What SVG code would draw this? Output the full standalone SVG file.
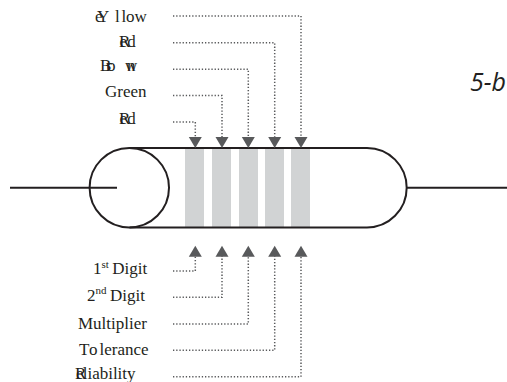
<svg xmlns="http://www.w3.org/2000/svg" width="507" height="382" viewBox="0 0 507 382">
  <style>
    .body { fill: none; stroke: #231f20; stroke-width: 2; }
    .band { fill: #d1d3d4; }
    .lead { fill: none; stroke: #58595b; stroke-width: 1.5; stroke-dasharray: 1.3 1.9; }
    .head { fill: #58595b; }
    .lbl { font-family: "Liberation Serif", serif; font-size: 17px; fill: #231f20; }
    .sup { font-size: 11px; }
    .tag { font-family: "Open Sans", sans-serif; font-style: italic; font-size: 25px; fill: #231f20; }
  </style>
  <defs>
    <path id="down" class="head" d="M-6.5,-11 H6.5 L0,0 Z"/>
    <path id="up" class="head" d="M-6.5,11 H6.5 L0,0 Z"/>
  </defs>

  <g id="bands">
    <rect class="band" x="185" y="149" width="19" height="78"/>
    <rect class="band" x="212" y="149" width="19" height="78"/>
    <rect class="band" x="239" y="149" width="19" height="78"/>
    <rect class="band" x="265" y="149" width="19" height="78"/>
    <rect class="band" x="291" y="149" width="19" height="78"/>
  </g>

  <g id="resistor">
    <path class="body" d="M129.5,148 H367 A39.7,39.7 0 0 1 367,227.4 H129.5"/>
    <circle class="body" cx="129.3" cy="187.7" r="39.7"/>
    <path class="body" d="M10,187.7 H117"/>
    <path class="body" d="M407,187.7 H507"/>
  </g>

  <g id="connectors">
    <path class="lead" d="M173,16 H301 V137"/>
    <path class="lead" d="M173,42.7 H274.7 V137"/>
    <path class="lead" d="M173,69.3 H248.3 V137"/>
    <path class="lead" d="M173,95.5 H222 V137"/>
    <path class="lead" d="M173,122 H195.3 V137"/>
    <use href="#down" x="195.3" y="148"/>
    <use href="#down" x="222" y="148"/>
    <use href="#down" x="248.3" y="148"/>
    <use href="#down" x="274.7" y="148"/>
    <use href="#down" x="301" y="148"/>
    <path class="lead" d="M173,271 H195.3 V256"/>
    <path class="lead" d="M173,297.3 H222 V256"/>
    <path class="lead" d="M173,324 H248.3 V256"/>
    <path class="lead" d="M173,350.3 H274.7 V256"/>
    <path class="lead" d="M173,376.7 H301 V256"/>
    <use href="#up" x="195.3" y="245.7"/>
    <use href="#up" x="222" y="245.7"/>
    <use href="#up" x="248.3" y="245.7"/>
    <use href="#up" x="274.7" y="245.7"/>
    <use href="#up" x="301" y="245.7"/>
  </g>

  <g id="band-labels">
    <text class="lbl" y="21.7" x="97 95 115 121.5 126 134.5">Yellow</text>
    <text class="lbl" y="46.5" x="119 119.5 127.2">Red</text>
    <text class="lbl" y="71" x="100 106 107 125 127">Brown</text>
    <text class="lbl" x="105" y="97.3">Green</text>
    <text class="lbl" y="124" x="119 119.5 127.2">Red</text>
  </g>

  <g id="digit-labels">
    <text class="lbl" y="274.3" x="93">1<tspan class="sup" dy="-6.5">st</tspan><tspan dx="3.5" dy="6.5">Digit</tspan></text>
    <text class="lbl" y="300.7" x="87">2<tspan class="sup" dy="-6.5">nd</tspan><tspan dx="3.5" dy="6.5">Digit</tspan></text>
    <text class="lbl" x="78" y="329">Multiplier</text>
    <text class="lbl" y="355" x="79 89">To<tspan dx="2">lerance</tspan></text>
    <text class="lbl" y="379" x="75 76 82.8 87.5 92.2 99.7 108.2 112.9 117.6 122.3 127">Reliability</text>
  </g>

  <text id="figure-tag" class="tag" x="470" y="91">5-b</text>
</svg>
